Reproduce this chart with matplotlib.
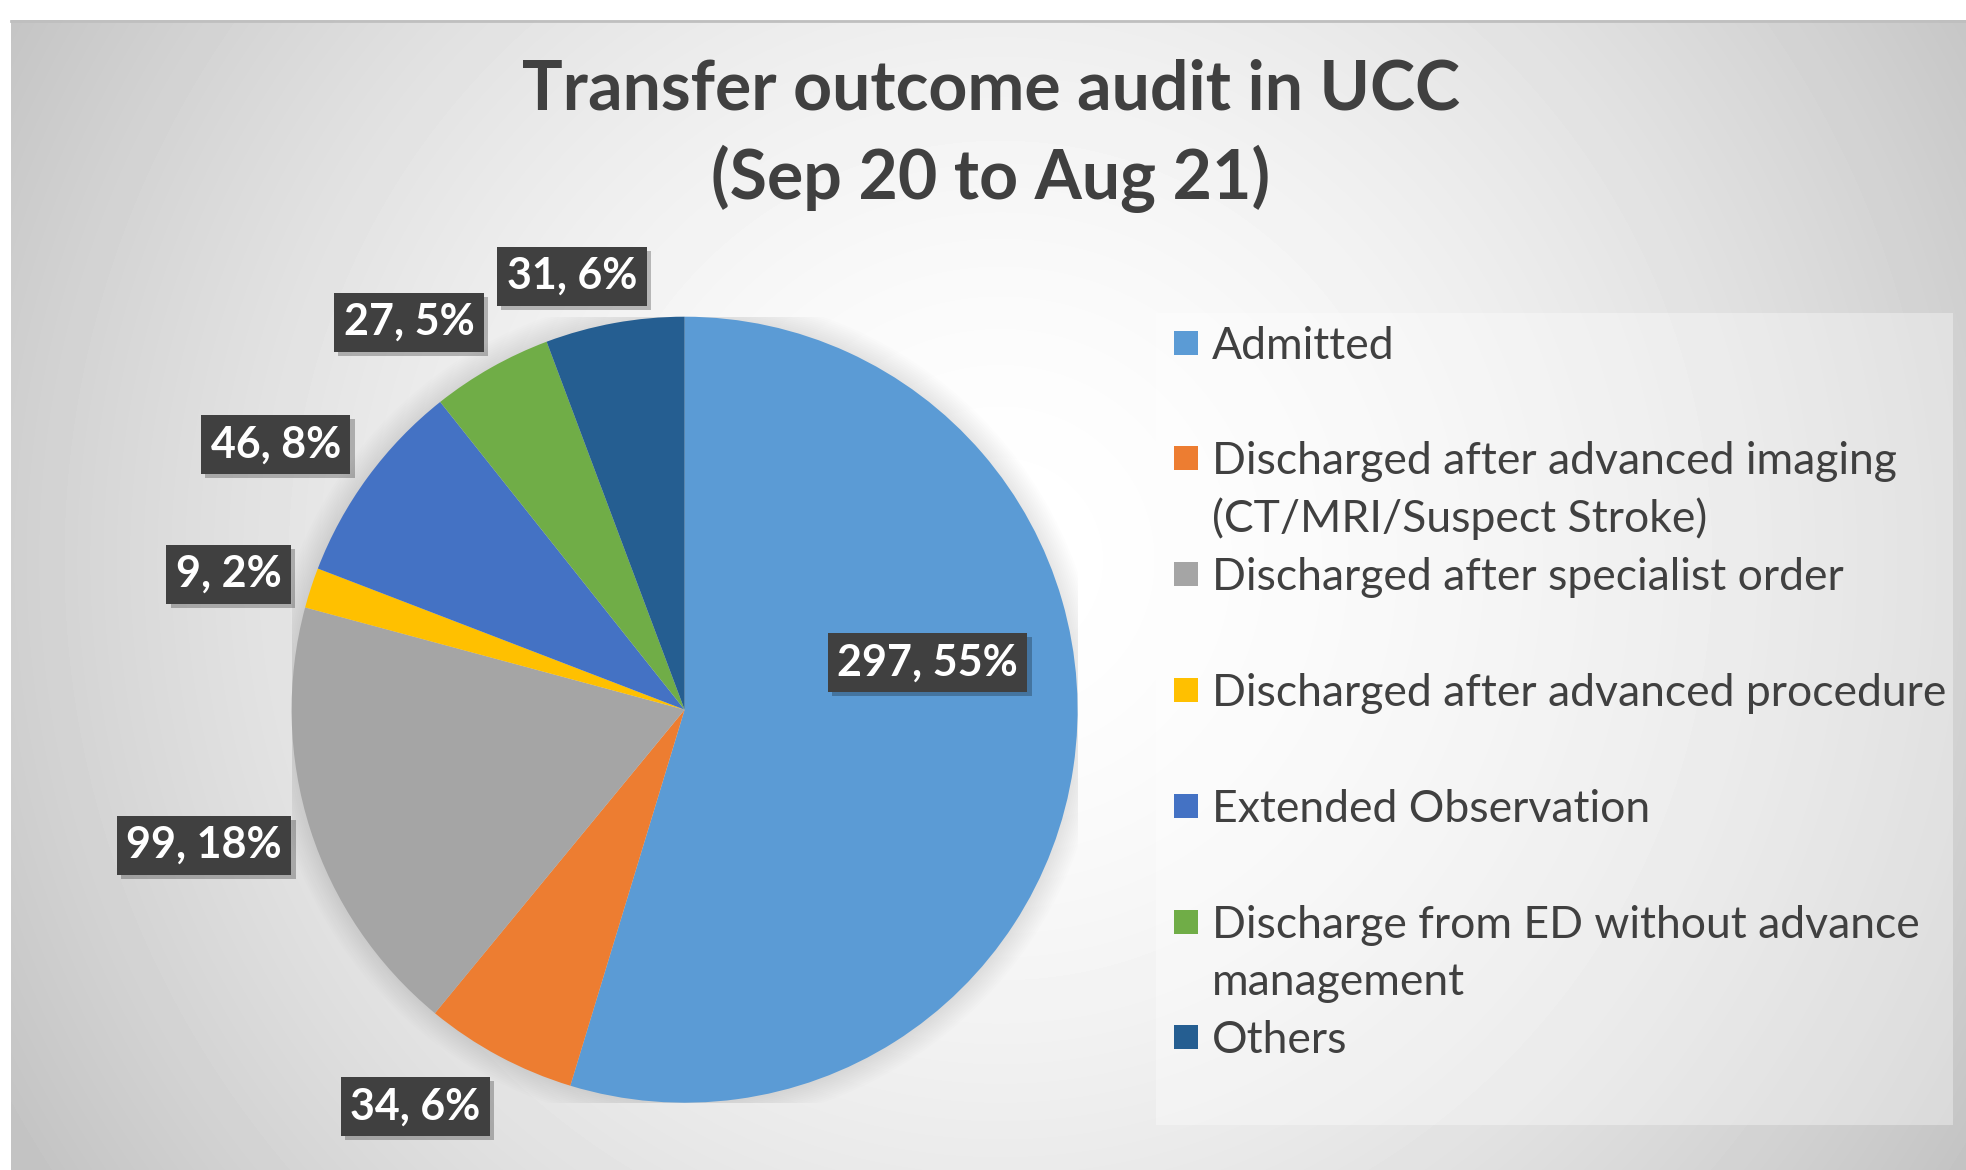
import numpy as np
import matplotlib.pyplot as plt
from matplotlib.patches import Rectangle, Circle
from matplotlib import patheffects

# data
categories = [
    "Admitted",
    "Discharged after advanced imaging\n(CT/MRI/Suspect Stroke)",
    "Discharged after specialist order",
    "Discharged after advanced procedure",
    "Extended Observation",
    "Discharge from ED without advance\nmanagement",
    "Others",
]
counts = [297, 34, 99, 9, 46, 27, 31]
colors = ["#5B9BD5", "#ED7D31", "#A5A5A5", "#FFC000", "#4472C4", "#70AD47", "#255E91"]

# where each data label sits (radius as fraction of pie radius, angle nudge in degrees)
label_radius = [0.63, 1.22, 1.27, 1.21, 1.24, 1.21, 1.14]
label_nudge = [19.5, -6.0, -2.0, 1.5, 3.3, 5.9, 4.3]

title = "Transfer outcome audit in UCC\n(Sep 20 to Aug 21)"

W, H = 1966, 1170
FONT = "Lato"
TXT = "#404040"

fig = plt.figure(figsize=(W / 100, H / 100), dpi=100)

# background with radial gradient
bg = fig.add_axes([0, 0, 1, 1])
bg.set_xlim(0, W)
bg.set_ylim(H, 0)
bg.axis("off")
yy, xx = np.mgrid[20:H, 11:W]
d = np.hypot(xx - 1000, yy - 560)
v = (255 - 59 * np.clip(d / 1130, 0, 1) ** 1.7) / 255
bg.imshow(v, cmap="gray", vmin=0, vmax=1, extent=(11, W, H, 20),
          interpolation="bilinear", aspect="auto")
bg.plot([11, W], [21, 21], color="#bfbfbf", lw=2)

# legend panel
bg.add_patch(Rectangle((1156, 313), 797, 812, fc="white", ec="none", alpha=0.35))

# pie
cx, cy, R = 684.6, 709.7, 393
ax = fig.add_axes([(cx - R) / W, (H - cy - R) / H, 2 * R / W, 2 * R / H])
for k in range(12):
    ax.add_patch(Circle((0, 0), 1 + 0.005 * (k + 1), fc="black", ec="none",
                        alpha=0.007, zorder=0))
wedges, _ = ax.pie(counts, colors=colors, startangle=90, counterclock=False,
                   radius=1, wedgeprops=dict(linewidth=0))
ax.set_xlim(-1, 1)
ax.set_ylim(-1, 1)
ax.axis("off")

total = sum(counts)
box_fx = [patheffects.SimplePatchShadow(offset=(3, -3), shadow_rgbFace="black", alpha=0.25),
          patheffects.Normal()]
for w, c, r, nud in zip(wedges, counts, label_radius, label_nudge):
    th = np.deg2rad((w.theta1 + w.theta2) / 2 + nud)
    x, y = r * np.cos(th), r * np.sin(th)
    s = f"{c}, {round(100 * c / total)}%"
    ax.text(x, y, s, ha="center", va="center", color="white", fontsize=31,
            fontweight="bold", family=FONT, clip_on=False,
            bbox=dict(boxstyle="square,pad=0.22", fc="#404040", ec="none",
                      path_effects=box_fx),
            zorder=5)

# title
for j, line in enumerate(title.split("\n")):
    bg.text(991, 90 + j * 89, line, ha="center", va="center", fontsize=49,
            fontweight="bold", family=FONT, color=TXT)

# legend
for i, (lab, col) in enumerate(zip(categories, colors)):
    base = 358.6 + i * 115.8
    bg.add_patch(Rectangle((1174, base - 28), 24, 24, fc=col, ec="none"))
    for j, line in enumerate(lab.split("\n")):
        bg.text(1212, base + j * 57.7, line, va="baseline", ha="left",
                fontsize=32, family=FONT, color=TXT)

fig.savefig("out.png", dpi=100)
